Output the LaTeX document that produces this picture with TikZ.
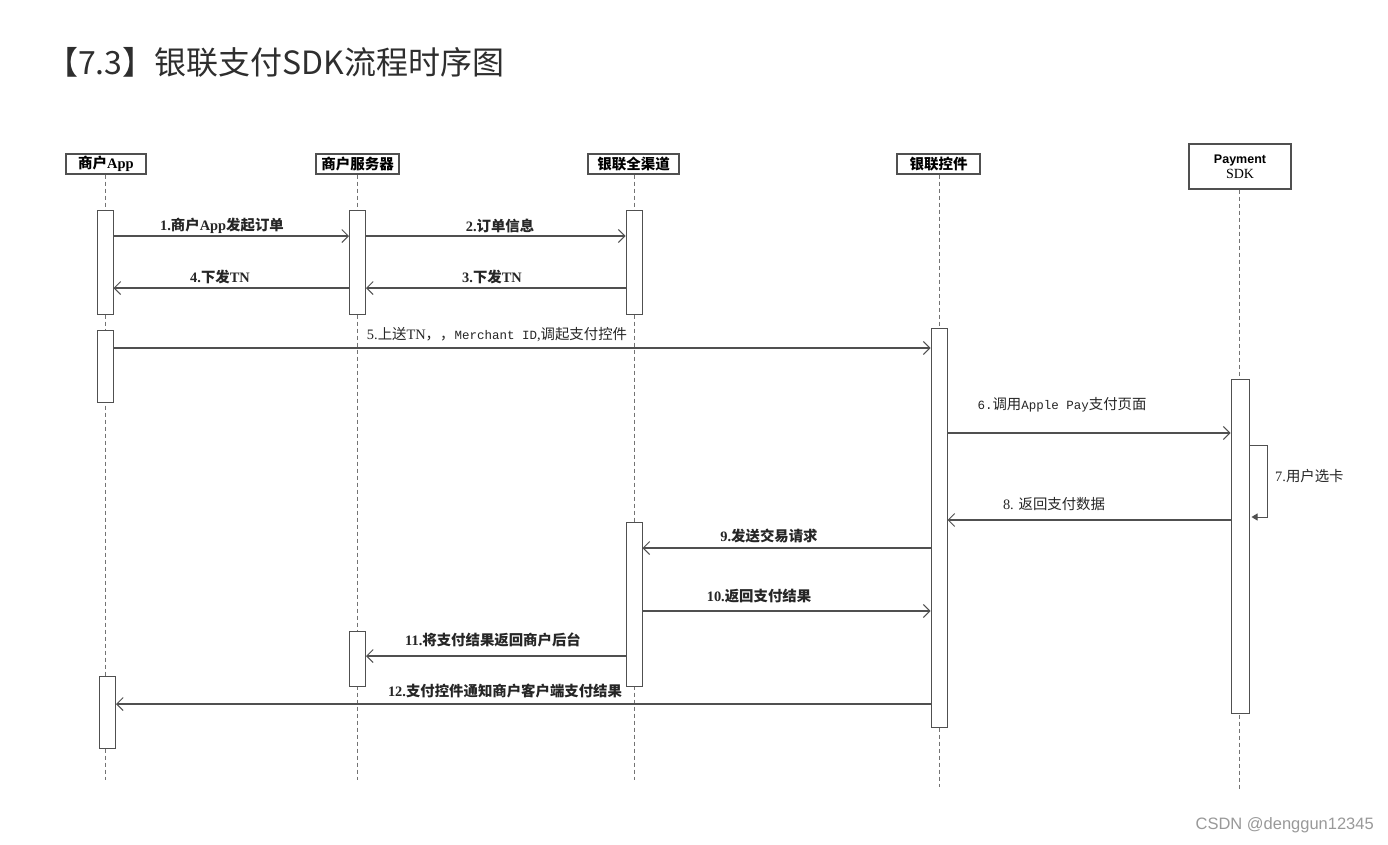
\documentclass[tikz,border=0pt]{standalone}
\usepackage{fontspec}
\usetikzlibrary{arrows.meta}
\setmainfont{Liberation Serif}
\newfontfamily\cjk{Noto Sans CJK SC}
\newfontfamily\mono{Liberation Mono}
\newfontfamily\wmfont{Liberation Sans}
\newfontfamily\hsans{Liberation Sans}
\newcommand{\C}[1]{{\cjk #1}}
\definecolor{ln}{HTML}{505050}
\definecolor{ttl}{HTML}{2E2E2E}
\begin{document}
\begin{tikzpicture}[x=1pt,y=-1pt,
  life/.style={draw=ln!80, dash pattern=on 4pt off 3pt, line width=0.8pt},
  actbar/.style={draw=ln, fill=white, line width=1pt, minimum width=16pt, inner sep=0, anchor=north},
  msg/.style={draw=ln, line width=1.1pt, -{Straight Barb[length=6.5pt,width=13pt,line width=1pt]}},
  hdr/.style={draw=ln, line width=1.2pt, fill=white, inner sep=0, minimum height=20pt, font=\bfseries\fontsize{14.5}{14.5}\selectfont},
  lblb/.style={font=\bfseries\fontsize{14.4}{14.4}\selectfont, text=black!85, inner sep=0},
  lblr/.style={font=\fontsize{14.4}{14.4}\selectfont, text=black!85, inner sep=0}]
\useasboundingbox[fill=white] (0,0) rectangle (1388,844);
% title
\node[anchor=west, inner sep=0, text=ttl, font=\cjk\fontsize{32}{32}\selectfont] (title) at (46,62) {【7.3】银联支付SDK流程时序图};
% headers
\node[hdr, minimum width=80pt] (hA) at (106,164) {\C{商户}App};
\node[hdr, minimum width=83pt] (hS) at (357.5,164) {\C{商户服务器}};
\node[hdr, minimum width=91pt] (hC) at (633.5,164) {\C{银联全渠道}};
\node[hdr, minimum width=83pt] (hK) at (938.5,164) {\C{银联控件}};
\node[draw=ln, line width=1.2pt, fill=white, minimum width=102pt, minimum height=45pt, inner sep=0, align=center] (hP) at (1240,166.5)
  {{\hsans\bfseries\fontsize{12.5}{12.5}\selectfont Payment}\\[3pt]{\fontsize{14}{14}\selectfont SDK}};
% lifeline ends
\coordinate (eA) at (105,780);
\coordinate (eS) at (357,780);
\coordinate (eC) at (634,780);
\coordinate (eK) at (939,787);
\coordinate (eP) at (1239,790);
\draw[life] (hA.south -| eA) -- (eA);
\draw[life] (hS.south -| eS) -- (eS);
\draw[life] (hC.south -| eC) -- (eC);
\draw[life] (hK.south -| eK) -- (eK);
\draw[life] (hP.south -| eP) -- (eP);
% activation bars
\node[actbar, minimum height=104pt] (a1) at (105,210) {};
\node[actbar, minimum height=72pt] (a2) at (105,330) {};
\node[actbar, minimum height=72pt] (a3) at (107.5,676) {};
\node[actbar, minimum height=104pt] (s1) at (357.5,210) {};
\node[actbar, minimum height=55pt] (s2) at (357.5,631) {};
\node[actbar, minimum height=104pt] (c1) at (634,210) {};
\node[actbar, minimum height=164pt] (c2) at (634,522) {};
\node[actbar, minimum height=399pt] (k1) at (939,328) {};
\node[actbar, minimum height=334pt, minimum width=18pt] (p1) at (1240,379) {};
% message rows
\coordinate (y1) at (0,236);
\coordinate (y3) at (0,288);
\coordinate (y5) at (0,348);
\coordinate (y6) at (0,433);
\coordinate (y7a) at (0,445);
\coordinate (y7b) at (0,517);
\coordinate (y8) at (0,520);
\coordinate (y9) at (0,548);
\coordinate (y10) at (0,611);
\coordinate (y11) at (0,656);
\coordinate (y12) at (0,704);
% messages
\draw[msg] (y1 -| a1.east) -- (y1 -| s1.west);
\draw[msg] (y1 -| s1.east) -- (y1 -| c1.west);
\draw[msg] (y3 -| c1.west) -- (y3 -| s1.east);
\draw[msg] (y3 -| s1.west) -- (y3 -| a1.east);
\draw[msg] (y5 -| a2.east) -- (y5 -| k1.west);
\draw[msg] (y6 -| k1.east) -- (y6 -| p1.west);
\draw[draw=ln, line width=1pt, -{Triangle[length=6pt,width=7pt]}] (y7a -| p1.east) -- ++(18,0) |- ([xshift=2pt]y7b -| p1.east);
\draw[msg] (y8 -| p1.west) -- (y8 -| k1.east);
\draw[msg] (y9 -| k1.west) -- (y9 -| c2.east);
\draw[msg] (y10 -| c2.east) -- (y10 -| k1.west);
\draw[msg] (y11 -| c2.west) -- (y11 -| s2.east);
\draw[msg] (y12 -| k1.west) -- (y12 -| a3.east);
% labels
\node[lblb] (l1) at (222,226) {1.\C{商户}App\C{发起订单}};
\node[lblb] (l2) at (500,226) {2.\C{订单信息}};
\node[lblb] (l3) at (492,277) {3.\C{下发}TN};
\node[lblb] (l4) at (220,277) {4.\C{下发}TN};
\node[lblr] (l5) at (497,335) {5.\C{上送}TN\C{，，}{\mono\fontsize{12.5}{12.5}\selectfont Merchant ID},\C{调起支付控件}};
\node[lblr] (l6) at (1062,405) {{\mono\fontsize{12.5}{12.5}\selectfont 6.}\C{调用}{\mono\fontsize{12.5}{12.5}\selectfont Apple Pay}\C{支付页面}};
\node[lblr, anchor=west] (l7) at (1275,476) {7.\C{用户选卡}};
\node[lblr] (l8) at (1054,504) {8. \C{返回支付数据}};
\node[lblb] (l9) at (769,536) {9.\C{发送交易请求}};
\node[lblb] (l10) at (759,596) {10.\C{返回支付结果}};
\node[lblb] (l11) at (493,640) {11.\C{将支付结果返回商户后台}};
\node[lblb] (l12) at (505,691) {12.\C{支付控件通知商户客户端支付结果}};
% watermark
\node[anchor=east, inner sep=0, text=black!40, font=\wmfont\fontsize{16.5}{16.5}\selectfont] (wm) at (1374,825) {CSDN @denggun12345};
\end{tikzpicture}
\end{document}
